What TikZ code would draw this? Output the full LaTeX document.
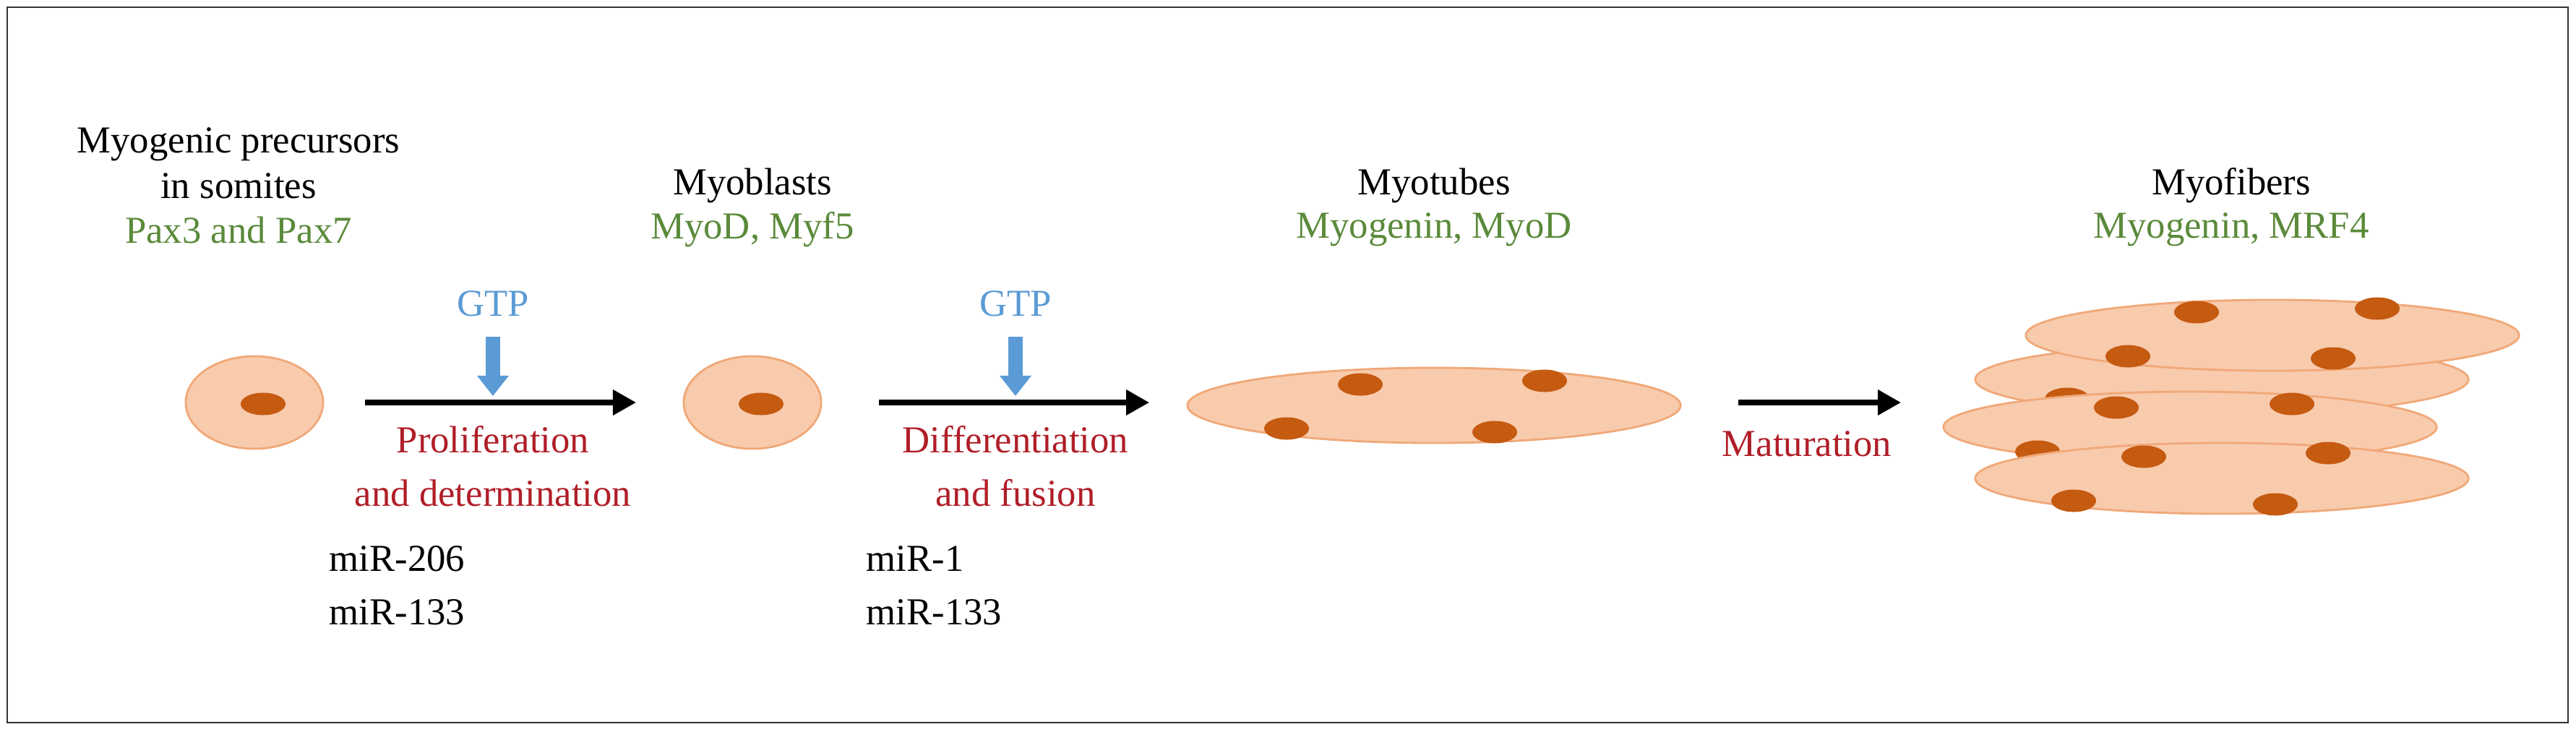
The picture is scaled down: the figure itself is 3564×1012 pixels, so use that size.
\documentclass[tikz,border=0pt]{standalone}
\usepackage{fontspec}
\setmainfont{Liberation Serif}
\usetikzlibrary{arrows.meta,shapes.geometric}
\definecolor{cellf}{HTML}{F8CBAD}
\definecolor{celld}{HTML}{F0A878}
\definecolor{nuc}{HTML}{C55A11}
\definecolor{gtxt}{HTML}{5A8A3A}
\definecolor{rtxt}{HTML}{B01E28}
\definecolor{btxt}{HTML}{5B9BD5}
\begin{document}
\begin{tikzpicture}[x=0.01cm,y=-0.01cm,
  lbl/.style={font=\fontsize{15}{19}\selectfont,inner sep=0pt,anchor=center},
  blk/.style={lbl,text=black},
  grn/.style={lbl,text=gtxt},
  red/.style={lbl,text=rtxt,align=center},
  blu/.style={lbl,text=btxt},
  cell/.style={ellipse,fill=cellf,draw=celld,line width=0.8pt,inner sep=0pt,minimum width=#1},
  nucl/.style={ellipse,fill=nuc,draw=none,inner sep=0pt,minimum width=0.62cm,minimum height=0.31cm},
  arr/.style={-{Triangle[length=0.32cm,width=0.34cm]},line width=2pt},
  garr/.style={-{Triangle[length=0.28cm,width=0.42cm]},line width=0.2cm,draw=btxt}]
\useasboundingbox (0,0) rectangle (3564,1012);
\draw[line width=0.8pt,draw=black!80] (10,10) rectangle (3553,1000);
% titles
\node[blk] (t1a) at (330,200) {Myogenic precursors};
\node[blk] (t1b) at (330,257) {in somites};
\node[grn] (g1) at (330,318) {Pax3 and Pax7};
\node[blk] (t2) at (1041,257) {Myoblasts};
\node[grn] (g2) at (1041,318) {MyoD, Myf5};
\node[blk] (t3) at (1984,257) {Myotubes};
\node[grn] (g3) at (1984,318) {Myogenin, MyoD};
\node[blk] (t4) at (3087,257) {Myofibers};
\node[grn] (g4) at (3087,318) {Myogenin, MRF4};
% cells
\node[cell=1.9cm,minimum height=1.28cm] (c1) at (352,557) {};
\node[nucl] (n1) at (364,559) {};
\node[cell=1.9cm,minimum height=1.28cm] (c2) at (1041,557) {};
\node[nucl] (n2) at (1053,559) {};
\node[cell=6.82cm,minimum height=1.04cm] (mt) at (1984,561) {};
\node[nucl] at (1882,532) {};
\node[nucl] at (2137,527) {};
\node[nucl] at (1780,593) {};
\node[nucl] at (2068,598) {};
% myofibers
\node[cell=6.82cm,minimum height=0.98cm] (f2) at (3074,525) {};
\node[nucl] at (2860,552) {};
\node[cell=6.82cm,minimum height=0.98cm] (f3) at (3030,591) {};
\node[nucl] at (2928,564) {};
\node[nucl] at (3171,559) {};
\node[nucl] at (2819,625) {};
\node[cell=6.82cm,minimum height=0.98cm] (f4) at (3074,662) {};
\node[nucl] at (2966,632) {};
\node[nucl] at (3221,627) {};
\node[nucl] at (2869,693) {};
\node[nucl] at (3148,698) {};
\node[cell=6.82cm,minimum height=0.98cm] (f1) at (3144,464) {};
\node[nucl] at (3039,432) {};
\node[nucl] at (3289,427) {};
\node[nucl] at (2944,493) {};
\node[nucl] at (3228,496) {};
% arrows
\coordinate (a1s) at (505,557); \coordinate (a1e) at (880,557);
\draw[arr] (a1s) -- (a1e);
\coordinate (a2s) at (1216,557); \coordinate (a2e) at (1590,557);
\draw[arr] (a2s) -- (a2e);
\coordinate (a3s) at (2405,557); \coordinate (a3e) at (2630,557);
\draw[arr] (a3s) -- (a3e);
\node[blu] (gtp1) at (682,420) {GTP};
\coordinate (s1) at (682,466); \coordinate (b1) at (682,548);
\draw[garr] (s1) -- (b1);
\node[blu] (gtp2) at (1405,420) {GTP};
\coordinate (s2) at (1405,466); \coordinate (b2) at (1405,548);
\draw[garr] (s2) -- (b2);
\node[red] (p1) at (682,645) {Proliferation\\[2pt]and determination};
\node[red] (p2) at (1405,645) {Differentiation\\[2pt]and fusion};
\node[red] (p3) at (2500,614) {Maturation};
\node[blk,anchor=west,align=left] (m1) at (455,810) {miR-206\\[2pt]miR-133};
\node[blk,anchor=west,align=left] (m2) at (1198,810) {miR-1\\[2pt]miR-133};
\end{tikzpicture}
\end{document}
